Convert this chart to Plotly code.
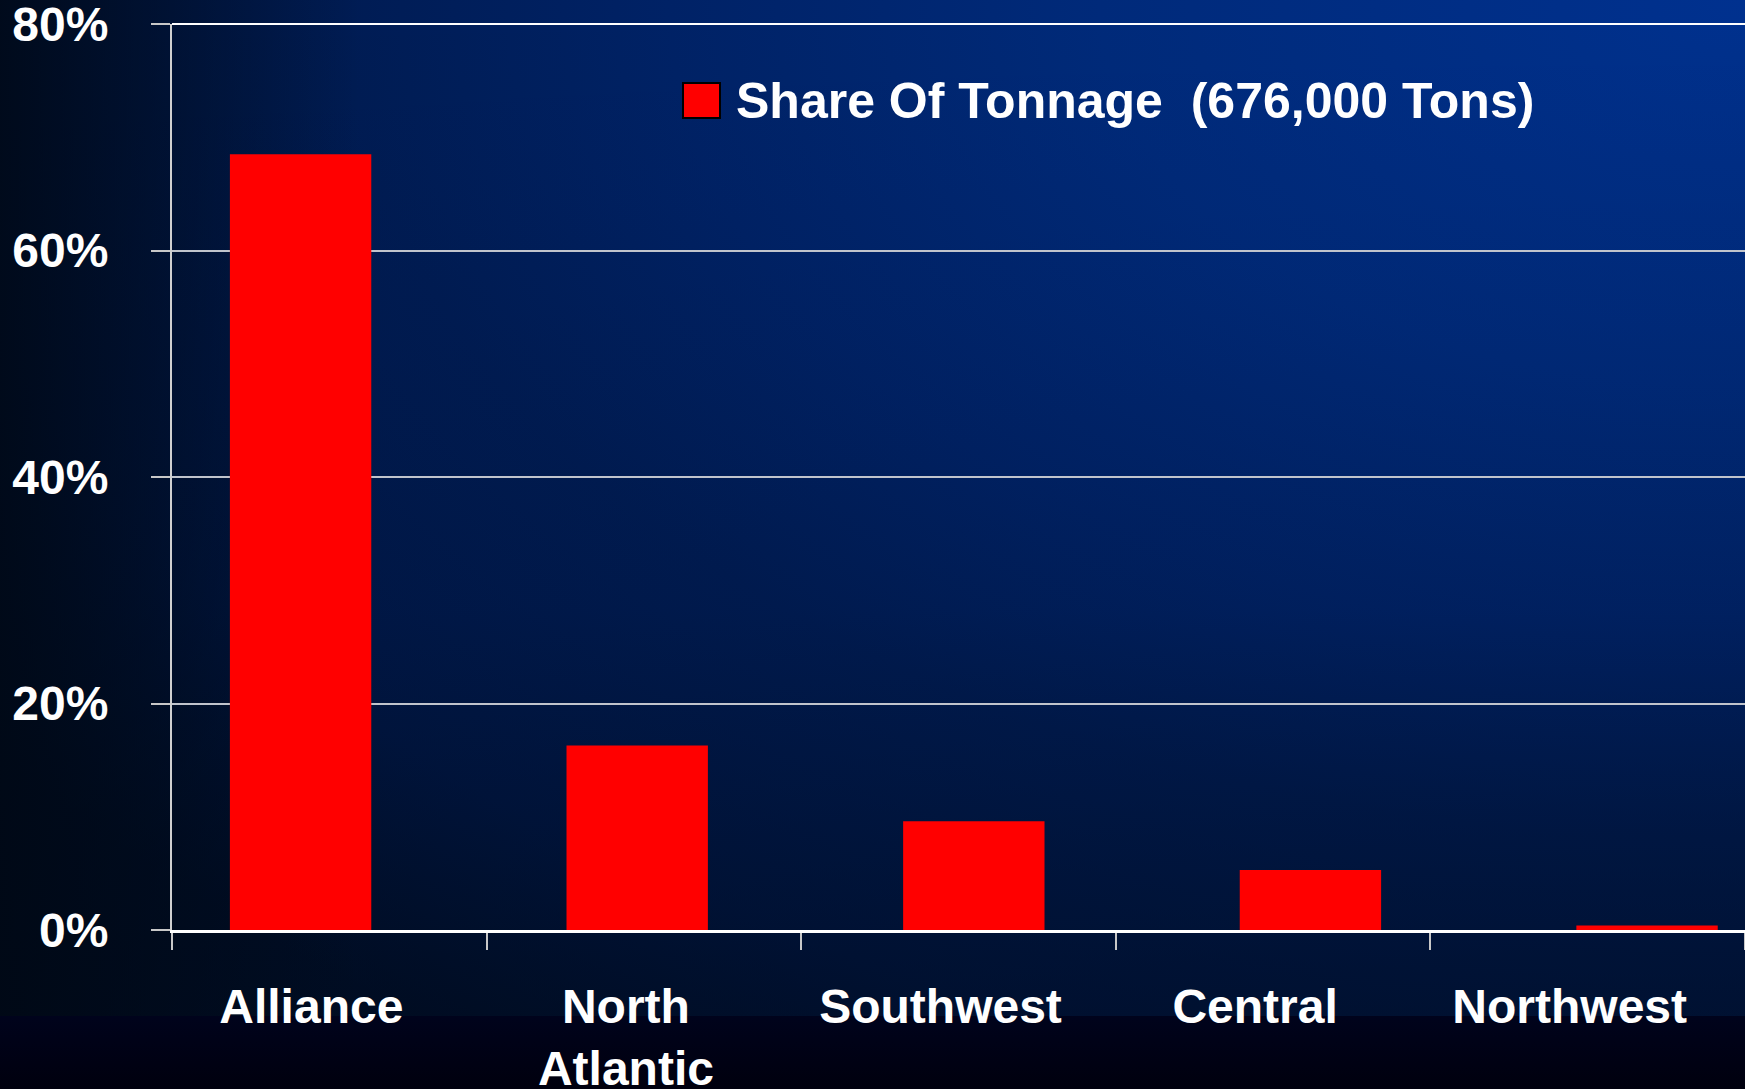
import base64

import plotly.graph_objects as go

# data
regions = ["Alliance", "North Atlantic", "Southwest", "Central", "Northwest"]
region_labels = ["Alliance", "North<br>Atlantic", "Southwest", "Central", "Northwest"]
share_of_tonnage = [68.5, 16.3, 9.6, 5.3, 0.4]
series_name = "Share Of Tonnage \u00a0(676,000 Tons)"
y_ticks = [0, 20, 40, 60, 80]
y_tick_labels = ["0%", "20%", "40%", "60%", "80%"]

W, H = 1745, 1089
M_L, M_T, M_B = 172, 24, 159
PLOT_W, PLOT_H = W - M_L, H - M_T - M_B

FONT = "Liberation Sans, Arial, sans-serif"

# slide style background: radial blue glow from the top-right corner
svg = f"""<svg xmlns='http://www.w3.org/2000/svg' width='{W}' height='{H}'>
<defs>
<radialGradient id='g' gradientUnits='userSpaceOnUse' cx='{W}' cy='0' r='2150'
 gradientTransform='translate({W} 0) scale(1 0.6) translate(-{W} 0)'>
<stop offset='0' stop-color='#00318f'/>
<stop offset='0.3' stop-color='#002a7a'/>
<stop offset='0.5' stop-color='#002266'/>
<stop offset='0.65' stop-color='#001c54'/>
<stop offset='0.85' stop-color='#001746'/>
<stop offset='1' stop-color='#00102e'/>
</radialGradient>
<linearGradient id='l' x1='0' y1='0' x2='1' y2='0'>
<stop offset='0' stop-color='#000814' stop-opacity='0.85'/>
<stop offset='1' stop-color='#000814' stop-opacity='0'/>
</linearGradient>
<linearGradient id='v' x1='0' y1='0' x2='0' y2='1'>
<stop offset='0' stop-color='#000814' stop-opacity='0'/>
<stop offset='0.6' stop-color='#000814' stop-opacity='0.1'/>
<stop offset='1' stop-color='#000814' stop-opacity='0.45'/>
</linearGradient>
<linearGradient id='b' x1='0' y1='0' x2='0' y2='1'>
<stop offset='0' stop-color='#00031c'/>
<stop offset='1' stop-color='#00000e'/>
</linearGradient>
</defs>
<rect width='{W}' height='{H}' fill='url(#g)'/>
<rect width='{W}' height='1016' fill='url(#v)'/>
<rect width='360' height='{H}' fill='url(#l)'/>
<rect y='1016' width='{W}' height='{H - 1016}' fill='url(#b)'/>
</svg>"""
bg_uri = "data:image/svg+xml;base64," + base64.b64encode(svg.encode()).decode()

fig = go.Figure()

fig.add_trace(go.Bar(
    x=regions,
    y=share_of_tonnage,
    name=series_name,
    marker=dict(color="#ff0000", line=dict(width=0)),
    width=0.42,
    showlegend=False,
))

# invisible trace that carries the tick/label axis
fig.add_trace(go.Scatter(
    x=regions,
    y=share_of_tonnage,
    xaxis="x2",
    mode="markers",
    marker=dict(opacity=0),
    hoverinfo="skip",
    showlegend=False,
))

fig.update_layout(
    width=W,
    height=H,
    margin=dict(l=M_L, r=0, t=M_T, b=M_B, autoexpand=False),
    paper_bgcolor="#00000e",
    plot_bgcolor="rgba(0,0,0,0)",
    font=dict(family=FONT, color="white", size=48, weight="bold"),
    images=[dict(
        source=bg_uri,
        xref="paper", yref="paper",
        x=-M_L / PLOT_W, y=1 + M_T / PLOT_H,
        sizex=W / PLOT_W, sizey=H / PLOT_H,
        xanchor="left", yanchor="top",
        sizing="stretch", layer="below",
    )],
    xaxis=dict(
        type="category",
        categoryorder="array",
        categoryarray=regions,
        range=[-0.382, 4.291],
        showticklabels=False,
        ticks="",
        showgrid=False,
        zeroline=False,
        showline=False,
        automargin=False,
    ),
    xaxis2=dict(
        type="category",
        categoryorder="array",
        categoryarray=regions,
        overlaying="x",
        side="bottom",
        range=[-0.5, 4.5],
        tickmode="array",
        tickvals=regions,
        ticktext=region_labels,
        tickson="boundaries",
        ticks="outside",
        ticklen=17,
        tickwidth=1.5,
        tickcolor="#c8c8c8",
        ticklabelstandoff=32,
        ticklabelshift=-18,
        ticklabeloverflow="allow",
        tickfont=dict(family=FONT, size=48, color="white", weight="bold"),
        showgrid=False,
        zeroline=False,
        showline=True,
        linecolor="white",
        linewidth=3,
        automargin=False,
    ),
    yaxis=dict(
        range=[0, 80],
        tickmode="array",
        tickvals=y_ticks,
        ticktext=y_tick_labels,
        ticks="outside",
        ticklen=19,
        tickwidth=1.5,
        tickcolor="#c8c8c8",
        ticklabelstandoff=33,
        ticklabeloverflow="allow",
        tickfont=dict(family=FONT, size=48, color="white", weight="bold"),
        showgrid=True,
        gridcolor="#c0c4cc",
        gridwidth=1.5,
        zeroline=False,
        showline=True,
        linecolor="#d0d0d0",
        linewidth=2,
        automargin=False,
    ),
    shapes=[
        dict(type="rect", xref="paper", yref="paper",
             x0=(683 - M_L) / PLOT_W, x1=(720 - M_L) / PLOT_W,
             y0=(M_T + PLOT_H - 118) / PLOT_H, y1=(M_T + PLOT_H - 83) / PLOT_H,
             fillcolor="#ff0000", line=dict(color="black", width=2)),
        dict(type="line", xref="paper", yref="paper",
             x0=0, x1=1, y0=1, y1=1, line=dict(color="white", width=2)),
    ],
    annotations=[dict(
        text=series_name,
        xref="paper", yref="paper",
        x=(734 - M_L) / PLOT_W, y=(M_T + PLOT_H - 101) / PLOT_H,
        xanchor="left", yanchor="middle",
        showarrow=False,
        font=dict(family=FONT, size=50, color="white", weight="bold"),
    )],
)

fig.write_html(
    "out.html",
    config={"displayModeBar": False},
    post_script="document.body.style.margin='0';document.body.style.overflow='hidden';",
)
